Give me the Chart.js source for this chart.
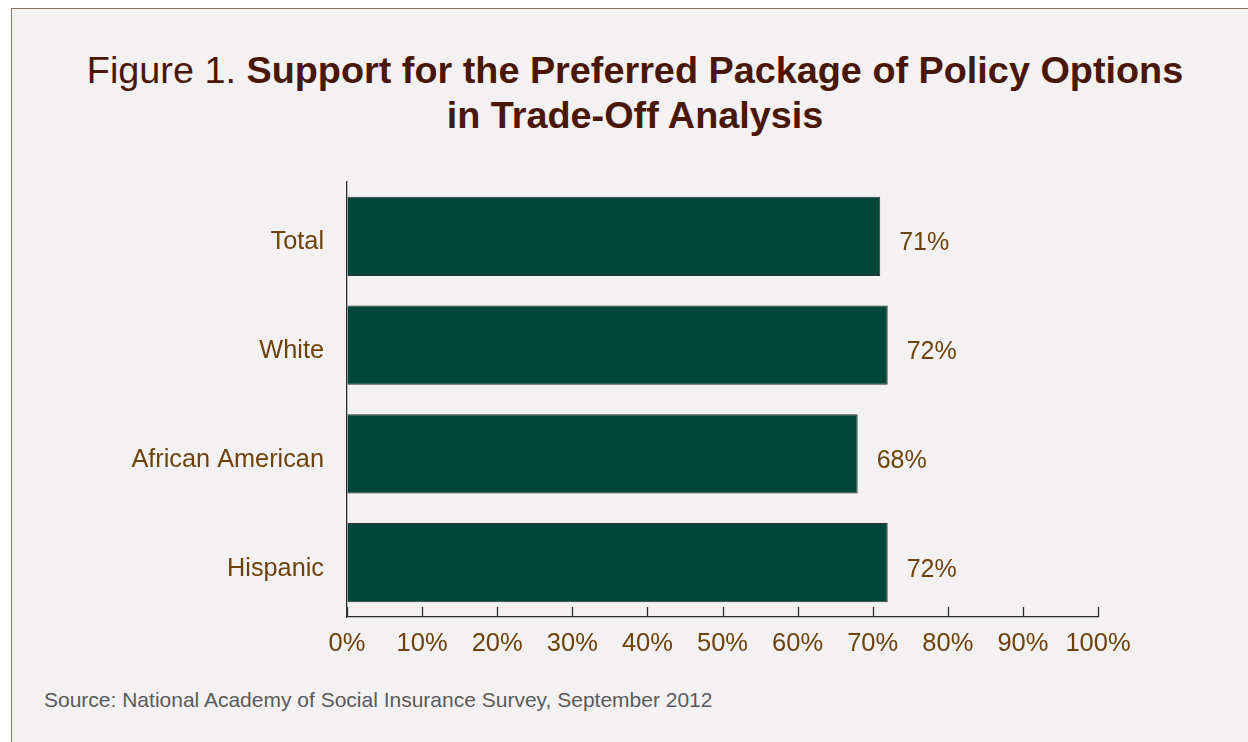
<!DOCTYPE html>
<html lang="en">
<head>
    <meta charset="UTF-8">
    <title>Figure 1</title>
    <script src="https://cdn.jsdelivr.net/npm/chart.js"></script>
    <style>
        html, body {
            margin: 0;
            padding: 0;
            background: #ffffff;
            overflow: hidden;
        }

        .frame {
            position: absolute;
            left: 11px;
            top: 8px;
            width: 1300px;
            height: 800px;
            background: #f4f1f2;
            border: 1.5px solid #8c7662;
        }

        .title {
            position: absolute;
            left: 35px;
            width: 1200px;
            top: 48px;
            text-align: center;
            font-family: "Liberation Sans", Arial, sans-serif;
            font-size: 37.8px;
            line-height: 45px;
            color: #4a1706;
        }

        .title b {
            font-weight: bold;
        }

        .source {
            position: absolute;
            left: 44px;
            top: 688px;
            font-family: "Liberation Sans", Arial, sans-serif;
            font-size: 21px;
            color: #5a5a5a;
        }

        canvas {
            position: absolute;
            left: 0;
            top: 0;
        }
    </style>
</head>
<body>
    <div class="frame"></div>
    <div class="title">Figure 1. <b>Support for the Preferred Package of Policy Options</b><br><b>in Trade-Off Analysis</b></div>
    <div class="source">Source: National Academy of Social Insurance Survey, September 2012</div>
    <canvas id="myChart" width="1248" height="742"></canvas>

    <script>
        const categories = ['Total', 'White', 'African American', 'Hispanic'];
        const support = [71, 72, 68, 72];
        const xTicks = [0, 10, 20, 30, 40, 50, 60, 70, 80, 90, 100];

        const labelColor = '#6e420c';
        const font = "'Liberation Sans', Arial, sans-serif";

        // value labels to the right of each bar
        const barLabels = {
            id: 'barLabels',
            afterDatasetsDraw(chart) {
                const ctx = chart.ctx;
                const meta = chart.getDatasetMeta(0);
                ctx.save();
                ctx.fillStyle = labelColor;
                ctx.font = '25px ' + font;
                ctx.textAlign = 'left';
                ctx.textBaseline = 'middle';
                meta.data.forEach((bar, i) => {
                    ctx.fillText(support[i] + '%', bar.x + 19, bar.y + 7);
                });
                ctx.restore();
            }
        };

        // tick marks point up into the plot
        const upTicks = {
            id: 'upTicks',
            afterDraw(chart) {
                const ctx = chart.ctx;
                const x = chart.scales.x;
                const bottom = chart.chartArea.bottom;
                ctx.save();
                ctx.strokeStyle = '#2b2b2b';
                ctx.lineWidth = 1.3;
                xTicks.forEach(v => {
                    const px = Math.round(x.getPixelForValue(v)) + 0.5;
                    ctx.beginPath();
                    ctx.moveTo(px, bottom);
                    ctx.lineTo(px, bottom - 10);
                    ctx.stroke();
                });
                ctx.restore();
            }
        };

        const ctx = document.getElementById('myChart').getContext('2d');
        new Chart(ctx, {
            type: 'bar',
            data: {
                labels: categories,
                datasets: [{
                    data: support,
                    backgroundColor: '#00473a',
                    borderColor: '#333333',
                    borderWidth: 1,
                    barPercentage: 0.73,
                    categoryPercentage: 1
                }]
            },
            options: {
                indexAxis: 'y',
                responsive: false,
                animation: false,
                layout: {
                    padding: { left: 0, right: 150, top: 182, bottom: 85 }
                },
                plugins: {
                    legend: { display: false },
                    tooltip: { enabled: false }
                },
                scales: {
                    x: {
                        min: 0,
                        max: 100,
                        afterBuildTicks: (scale) => {
                            scale.ticks = xTicks.map(v => ({ value: v }));
                        },
                        afterFit: (scale) => { scale.height = 40; },
                        grid: { drawOnChartArea: false, drawTicks: false, tickLength: 0 },
                        border: { color: '#2b2b2b', width: 1.3 },
                        ticks: {
                            padding: 12,
                            color: labelColor,
                            font: { family: font, size: 25.5 },
                            maxRotation: 0,
                            autoSkip: false,
                            callback: (v) => v + '%'
                        }
                    },
                    y: {
                        afterFit: (scale) => { scale.width = 347; },
                        grid: { drawOnChartArea: false, drawTicks: false, tickLength: 0 },
                        border: { color: '#2b2b2b', width: 1.3 },
                        ticks: {
                            padding: 23,
                            labelOffset: 6,
                            color: labelColor,
                            font: { family: font, size: 25.3 }
                        }
                    }
                }
            },
            plugins: [barLabels, upTicks]
        });
    </script>
</body>
</html>
